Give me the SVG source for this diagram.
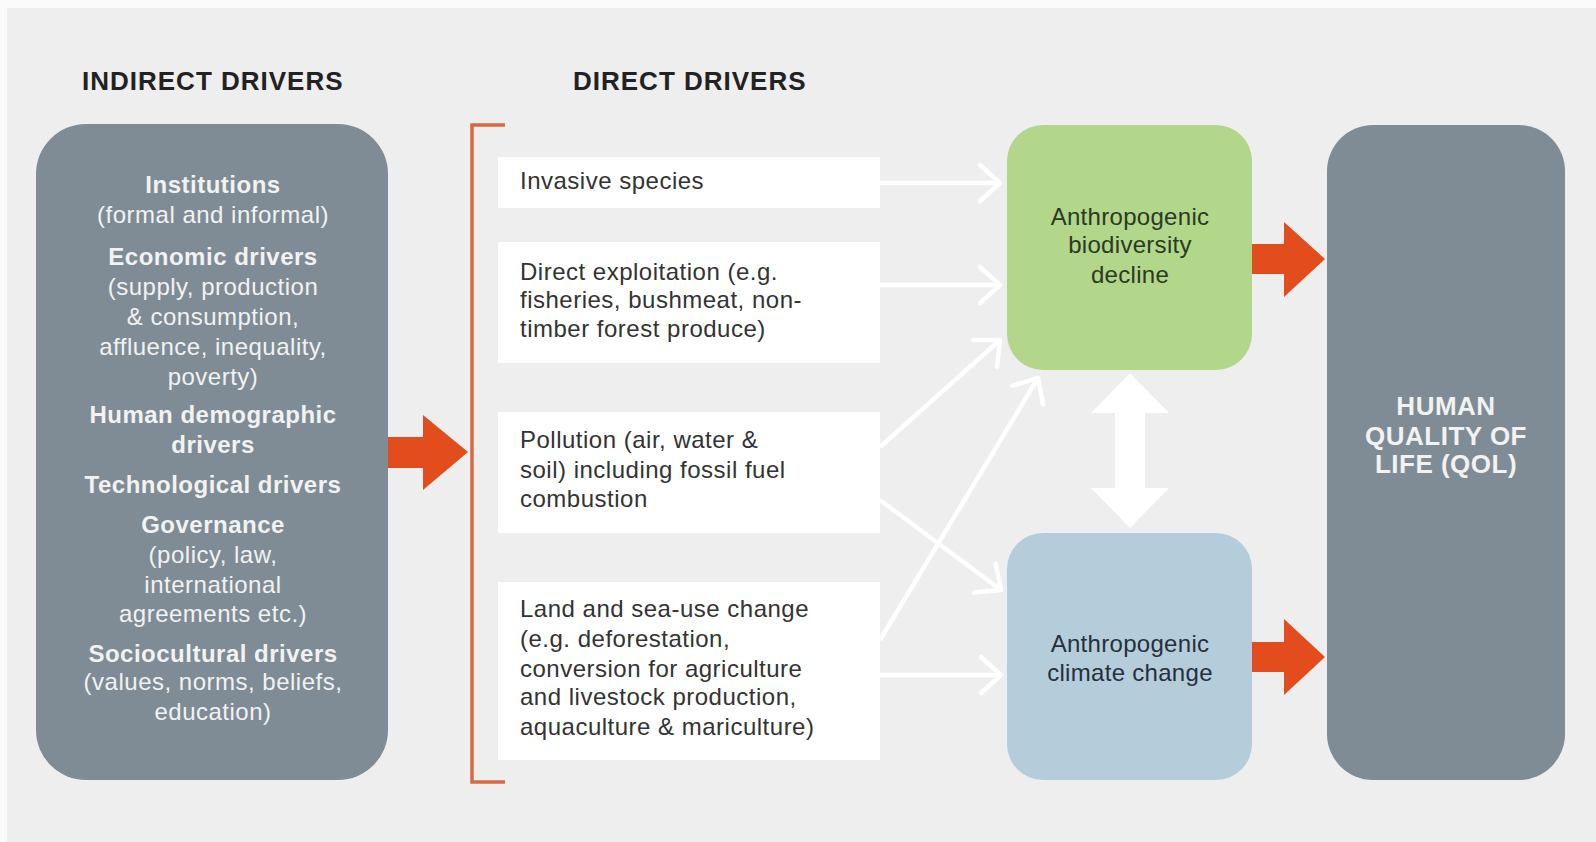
<svg xmlns="http://www.w3.org/2000/svg" width="1596" height="842" viewBox="0 0 1596 842">
<defs>
<style>
.bg{fill:#eeeeee}
.gray{fill:#7f8c95}
.wt{fill:#f2f2f2;font-family:"Liberation Sans",Arial,sans-serif;font-size:24px;letter-spacing:0.5px;text-anchor:middle}
.b{font-weight:bold}
.title{fill:#222222;font-family:"Liberation Sans",Arial,sans-serif;font-size:26px;font-weight:bold;letter-spacing:1px}
.dbox{fill:#ffffff}
.dt{fill:#333333;font-family:"Liberation Sans",Arial,sans-serif;font-size:24px;letter-spacing:0.5px}
.ct{font-family:"Liberation Sans",Arial,sans-serif;font-size:24px;text-anchor:middle;letter-spacing:0.3px}
.orange{fill:#e34c1c}
.conn{stroke:#ffffff;stroke-width:4.5;fill:none;marker-end:url(#chev)}
</style>
<marker id="chev" markerUnits="userSpaceOnUse" markerWidth="30" markerHeight="44" refX="22" refY="20" orient="auto" overflow="visible">
<path d="M2,2 L22,20 L2,38" fill="none" stroke="#ffffff" stroke-width="4.5" stroke-linecap="round" stroke-linejoin="round"/>
</marker>
</defs>
<rect x="0" y="0" width="1596" height="842" fill="#fbfbfb"/>
<rect class="bg" x="7" y="8" width="1589" height="834"/>

<text class="title" x="82" y="90">INDIRECT DRIVERS</text>
<text class="title" x="573" y="90">DIRECT DRIVERS</text>

<g id="indirect-drivers">
<rect class="gray" x="36" y="124" width="352" height="656" rx="50" ry="50"/>
<text class="wt b" x="213" y="193">Institutions</text>
<text class="wt" x="213" y="223">(formal and informal)</text>
<text class="wt b" x="213" y="265">Economic drivers</text>
<text class="wt" x="213" y="295">(supply, production</text>
<text class="wt" x="213" y="325">&amp; consumption,</text>
<text class="wt" x="213" y="355">affluence, inequality,</text>
<text class="wt" x="213" y="385">poverty)</text>
<text class="wt b" x="213" y="423">Human demographic</text>
<text class="wt b" x="213" y="453">drivers</text>
<text class="wt b" x="213" y="493">Technological drivers</text>
<text class="wt b" x="213" y="533">Governance</text>
<text class="wt" x="213" y="563">(policy, law,</text>
<text class="wt" x="213" y="593">international</text>
<text class="wt" x="213" y="622">agreements etc.)</text>
<text class="wt b" x="213" y="662">Sociocultural drivers</text>
<text class="wt" x="213" y="690">(values, norms, beliefs,</text>
<text class="wt" x="213" y="720">education)</text>
</g>

<g id="bracket">
<path d="M505,125 L472,125 L472,782 L505,782" fill="none" stroke="#d9693f" stroke-width="3.5"/>
</g>

<g id="driver-invasive">
<rect class="dbox" x="498" y="157" width="382" height="51"/>
<text class="dt" x="520" y="189">Invasive species</text>
</g>
<g id="driver-exploitation">
<rect class="dbox" x="498" y="242" width="382" height="121"/>
<text class="dt" x="520" y="280">Direct exploitation (e.g.</text>
<text class="dt" x="520" y="308">fisheries, bushmeat, non-</text>
<text class="dt" x="520" y="337">timber forest produce)</text>
</g>
<g id="driver-pollution">
<rect class="dbox" x="498" y="412" width="382" height="121"/>
<text class="dt" x="520" y="448">Pollution (air, water &amp;</text>
<text class="dt" x="520" y="478">soil) including fossil fuel</text>
<text class="dt" x="520" y="507">combustion</text>
</g>
<g id="driver-landuse">
<rect class="dbox" x="498" y="582" width="382" height="178"/>
<text class="dt" x="520" y="617">Land and sea-use change</text>
<text class="dt" x="520" y="647">(e.g. deforestation,</text>
<text class="dt" x="520" y="677">conversion for agriculture</text>
<text class="dt" x="520" y="705">and livestock production,</text>
<text class="dt" x="520" y="735">aquaculture &amp; mariculture)</text>
</g>

<g id="biodiversity">
<rect x="1007" y="125" width="245" height="245" rx="36" ry="36" fill="#b2d68a"/>
<text class="ct" x="1130" y="225" fill="#2b3a22">Anthropogenic</text>
<text class="ct" x="1130" y="253" fill="#2b3a22">biodiversity</text>
<text class="ct" x="1130" y="283" fill="#2b3a22">decline</text>
</g>

<g id="climate">
<rect x="1007" y="533" width="245" height="247" rx="36" ry="36" fill="#b5cddb"/>
<text class="ct" x="1130" y="652" fill="#25303c">Anthropogenic</text>
<text class="ct" x="1130" y="681" fill="#25303c">climate change</text>
</g>

<g id="qol">
<rect class="gray" x="1327" y="125" width="238" height="655" rx="46" ry="46"/>
<text class="wt b" x="1446" y="415" style="font-size:26px">HUMAN</text>
<text class="wt b" x="1446" y="445" style="font-size:26px">QUALITY OF</text>
<text class="wt b" x="1446" y="473" style="font-size:26px">LIFE (QOL)</text>
</g>

<g id="connectors">
<polygon class="orange" points="388,437 423,437 423,415 468,452 423,490 423,468 388,468"/>
<polygon class="orange" points="1252,244 1284,244 1284,222 1325,259 1284,297 1284,274 1252,274"/>
<polygon class="orange" points="1252,642 1284,642 1284,619 1325,657 1284,695 1284,672 1252,672"/>
<line class="conn" x1="880" y1="183" x2="1000" y2="183"/>
<line class="conn" x1="880" y1="285" x2="1000" y2="285"/>
<line class="conn" x1="880" y1="447" x2="1000" y2="340"/>
<line class="conn" x1="880" y1="500" x2="1001" y2="590"/>
<line class="conn" x1="880" y1="640" x2="1038" y2="378"/>
<line class="conn" x1="880" y1="675" x2="1001" y2="675"/>
<polygon fill="#ffffff" points="1130,373 1169,413 1145,413 1145,488 1169,488 1130,528 1091,488 1115,488 1115,413 1091,413"/>
</g>
</svg>
